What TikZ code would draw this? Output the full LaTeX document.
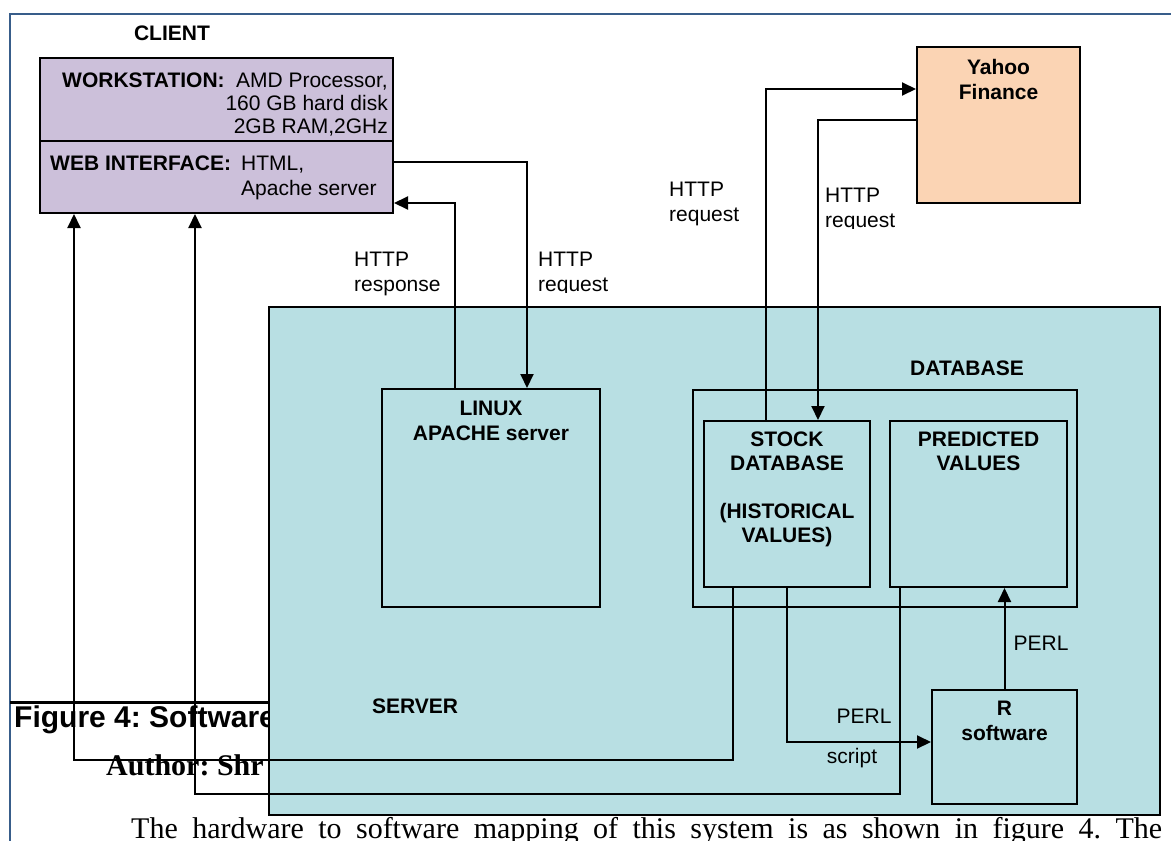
\documentclass[tikz,border=0pt]{standalone}
\usepackage{fontspec}
\setmainfont{Liberation Sans}
\newfontfamily\timesfont{Liberation Serif}
\usetikzlibrary{arrows.meta, positioning}
\definecolor{clientfill}{RGB}{204,192,218}
\definecolor{yahoofill}{RGB}{251,212,180}
\definecolor{serverfill}{RGB}{184,223,227}
\definecolor{framecol}{RGB}{56,93,138}
\frenchspacing

\begin{document}
\begin{tikzpicture}[x=1pt, y=-1pt,
  box/.style={draw, line width=2pt, anchor=north west, inner sep=0pt},
  conn/.style={line width=2pt, -{Triangle[length=14pt, width=13pt]}},
  hdr/.style={font=\fontsize{21}{25}\selectfont\bfseries, align=center, inner sep=0pt},
  lbl/.style={font=\fontsize{21}{25}\selectfont, align=left, inner sep=0pt}]
\useasboundingbox (0,0) rectangle (1171,841);

% page around the figure
\draw[framecol, line width=2pt] (10,841) -- (10,14) -- (1171,14);
\node[anchor=base west, inner sep=0pt, font=\fontsize{30}{34}\selectfont\bfseries] (figcap) at (14,727) {Figure 4: Software};
\node[anchor=base west, inner sep=0pt, font=\timesfont\fontsize{30}{34}\selectfont\bfseries] (author) at (106,775) {Author: Shr};
\draw[line width=3pt] (10,702) -- (268,702);
\node[anchor=base west, inner sep=0pt, font=\timesfont\fontsize{30}{36}\selectfont] (body) at (131,838)
  {\makebox[1031pt][s]{The hardware to software mapping of this system is as shown in figure 4. The}};

% client
\node[hdr] (clienttxt) at (172,33) {CLIENT};
\node[box, fill=clientfill, minimum width=353pt, minimum height=83pt] (ws) at (39,57) {};
\node[box, fill=clientfill, minimum width=353pt, minimum height=72pt] (web) at (39,140) {};
\node[hdr, anchor=west] (wstxt) at (62,80) {WORKSTATION:};
\node[lbl, align=right, anchor=north east, font=\fontsize{21}{23}\selectfont] (wsspec) at (388,73) {AMD Processor,\\160 GB hard disk\\2GB RAM,2GHz};
\node[hdr, anchor=west] (webtxt) at (50,163) {WEB INTERFACE:};
\node[lbl, anchor=north west] (webspec) at (241,156) {HTML,\\Apache server};

% yahoo
\node[box, fill=yahoofill, minimum width=163pt, minimum height=156pt] (yahoo) at (916,46) {};
\node[hdr, anchor=north] (yahootxt) at ([yshift=-13pt]yahoo.north) {Yahoo\\Finance};

% server
\node[box, fill=serverfill, minimum width=891pt, minimum height=508pt] (server) at (268,306) {};
\node[hdr] (servertxt) at (415,706) {SERVER};
\node[box, minimum width=218pt, minimum height=218pt] (linux) at (381,388) {};
\node[hdr, anchor=north] (linuxtxt) at ([yshift=-13pt]linux.north) {LINUX\\APACHE server};
\node[hdr] (dbtxt) at (967,368) {DATABASE};
\node[box, minimum width=384pt, minimum height=217pt] (db) at (692,389) {};
\node[box, minimum width=166pt, minimum height=166pt] (stock) at (703,420) {};
\node[hdr, anchor=north, font=\fontsize{21}{24}\selectfont\bfseries] (stocktxt) at ([yshift=-12pt]stock.north) {STOCK\\DATABASE\\[24pt](HISTORICAL\\VALUES)};
\node[box, minimum width=177pt, minimum height=166pt] (pred) at (889,420) {};
\node[hdr, anchor=north, font=\fontsize{21}{24}\selectfont\bfseries] (predtxt) at ([yshift=-12pt]pred.north) {PREDICTED\\VALUES};
\node[box, minimum width=145pt, minimum height=114pt] (rsw) at (931,689) {};
\node[hdr, anchor=north] (rswtxt) at ([yshift=-12pt]rsw.north) {R\\software};

% client <-> linux
\draw[conn] ([xshift=-36pt]linux.north) |- ([yshift=-26pt]web.east);
\draw[conn] ([yshift=15pt]web.east) -| ([xshift=36pt]linux.north);
\node[lbl, anchor=west] (resptxt) at (354,274) {HTTP\\response};
\begin{scope}
  \clip (530,240) rectangle (640,292);
  \node[lbl, anchor=west] (reqtxt) at (538,274) {HTTP\\request};
\end{scope}

% stock <-> yahoo
\draw[conn] ([xshift=-21pt]stock.north) |- ([yshift=36pt]yahoo.west);
\draw[conn] ([yshift=5pt]yahoo.west) -| ([xshift=31pt]stock.north);
\node[lbl, anchor=west] (yreqtxt) at (669,204) {HTTP\\request};
\begin{scope}
  \clip (815,170) rectangle (910,228);
  \node[lbl, anchor=west] (yrestxt) at (825,210) {HTTP\\request};
\end{scope}

% back to the client
\draw[conn] ([xshift=-54pt]stock.south) -- ++(0,172) -| ([xshift=-142.5pt]web.south);
\draw[conn] ([xshift=-78.5pt]pred.south) -- ++(0,206) -| ([xshift=-21.5pt]web.south);

% perl scripts
\draw[conn] (stock.south) |- ([yshift=5pt]rsw.west);
\node[lbl] (perltxt) at (864,716) {PERL};
\node[lbl] (scripttxt) at (852,758) {script};
\draw[conn] (rsw.north) -- (rsw.north |- pred.south);
\node[lbl] (perl2txt) at (1041,643) {PERL};
\end{tikzpicture}
\end{document}
